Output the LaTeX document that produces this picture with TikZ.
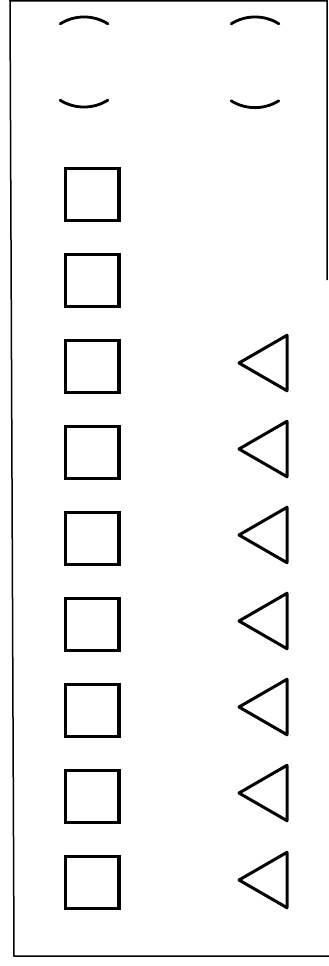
\documentclass[tikz,border=0pt]{standalone}
\usetikzlibrary{shapes.geometric}

\begin{document}
\begin{tikzpicture}[x=1pt,y=-1pt,frame/.style={line width=1.5pt},bracket/.style={line width=2.8pt,line cap=round},box/.style={draw,line width=3.4pt,minimum width=53.6pt,minimum height=51.6pt,inner sep=0pt},tri/.style={draw,line width=3pt,line join=round,regular polygon,regular polygon sides=3,shape border rotate=90,minimum size=64pt,inner sep=0pt}]
\useasboundingbox (0,0) rectangle (329,966);
% frame
\coordinate (TL) at (10,1); \coordinate (TR) at (327,1); \coordinate (RE) at (327,280);
\coordinate (BL) at (14,956); \coordinate (BR) at (329,956);
\draw[frame] (RE) -- (TR) -- (TL) -- (BL) -- (BR);
% brackets
\draw[bracket] (60.2,23.8) arc[start angle=238,end angle=302,radius=45];
\draw[bracket] (107.8,100.2) arc[start angle=58,end angle=122,radius=45];
\draw[bracket] (231.2,23.8) arc[start angle=238,end angle=302,radius=45];
\draw[bracket] (278.8,100.8) arc[start angle=58,end angle=122,radius=45];
% squares
\node[box] (sq1) at (92,194.5) {}; \node[box] (sq2) at (92,280.5) {}; \node[box] (sq3) at (92,366.5) {};
\node[box] (sq4) at (92,452.5) {}; \node[box] (sq5) at (92,538.5) {}; \node[box] (sq6) at (92,624.5) {};
\node[box] (sq7) at (92,710.5) {}; \node[box] (sq8) at (92,796.5) {}; \node[box] (sq9) at (92,882.5) {};
% triangles
\node[tri] (tr3) at (271,363) {}; \node[tri] (tr4) at (271,449) {}; \node[tri] (tr5) at (271,535) {};
\node[tri] (tr6) at (271,621) {}; \node[tri] (tr7) at (271,707) {}; \node[tri] (tr8) at (271,793) {};
\node[tri] (tr9) at (271,880) {};
\end{tikzpicture}
\end{document}
